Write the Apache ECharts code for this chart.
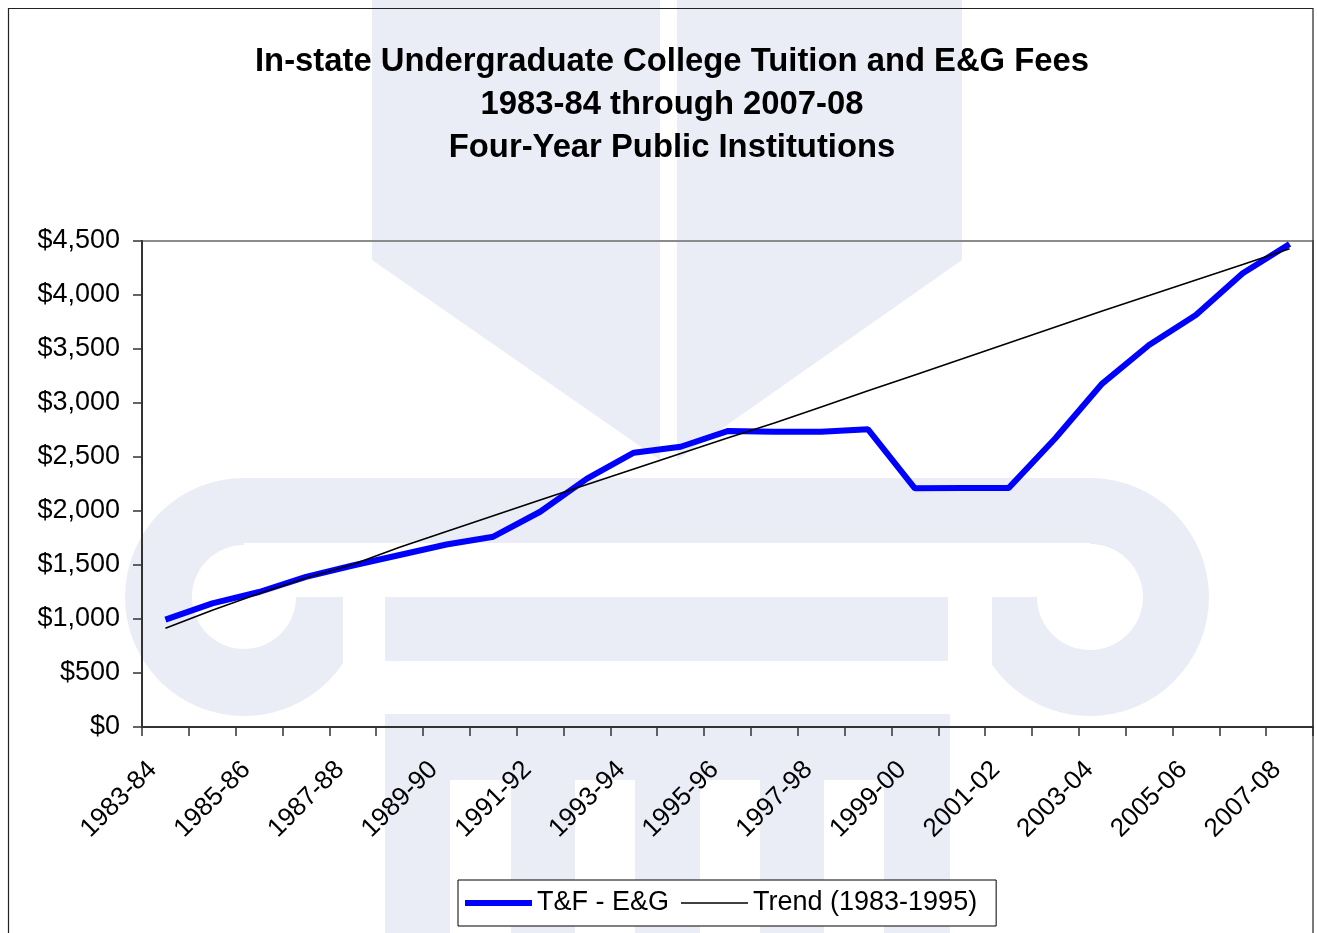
<!DOCTYPE html>
<html>
<head>
<meta charset="utf-8">
<script src="https://cdn.jsdelivr.net/npm/echarts@6/dist/echarts.min.js"></script>
<style>
html,body{margin:0;padding:0;background:#fff;}
#chart{width:1317px;height:933px;}
</style>
</head>
<body>
<div id="chart"></div>
<script>
const categories = ['1983-84','1984-85','1985-86','1986-87','1987-88','1988-89','1989-90','1990-91','1991-92','1992-93','1993-94','1994-95','1995-96','1996-97','1997-98','1998-99','1999-00','2000-01','2001-02','2002-03','2003-04','2004-05','2005-06','2006-07','2007-08'];
const tuitionFees = [995,1145,1250,1390,1495,1593,1690,1762,1993,2300,2540,2595,2740,2734,2734,2756,2210,2212,2212,2673,3180,3537,3815,4201,4472];
const trend = [914,1080,1236,1380,1505,1665,1810,1956,2102,2246,2389,2533,2676,2814,2964,3114,3260,3407,3556,3704,3852,3995,4139,4282,4428];
const yTicks = {min: 0, max: 4500, interval: 500};
const titleLines = ['In-state Undergraduate College Tuition and E&G Fees', '1983-84 through 2007-08', 'Four-Year Public Institutions'];
const seriesNames = ['T&F - E&G', 'Trend (1983-1995)'];

// decorative watermark geometry helpers
const WM = 'rgb(234,237,246)';
function arcPts(cx, cy, r, a0, a1, n) {
  const p = [];
  for (let i = 0; i <= n; i++) {
    const a = a0 + (a1 - a0) * i / n;
    p.push([cx + r * Math.cos(a), cy + r * Math.sin(a)]);
  }
  return p;
}
function tail(cx, cy, R, r, edgeX, side) {
  const dx = Math.abs(edgeX - cx);
  const aEdge = Math.acos(dx / R);
  let pts;
  if (side === 1) {
    pts = arcPts(cx, cy, R, Math.PI / 2, aEdge, 20);
    pts.push([edgeX, cy]);
    pts = pts.concat(arcPts(cx, cy, r, 0, Math.PI / 2, 20));
  } else {
    pts = arcPts(cx, cy, R, Math.PI / 2, Math.PI - aEdge, 20);
    pts.push([edgeX, cy]);
    pts = pts.concat(arcPts(cx, cy, r, Math.PI, Math.PI / 2, 20));
  }
  return pts;
}
const wmStyle = {fill: WM};
const watermark = [
  {type: 'polygon', z: -10, shape: {points: [[372,0],[660,0],[660,460],[372,260]]}, style: wmStyle, silent: true},
  {type: 'polygon', z: -10, shape: {points: [[677,0],[962,0],[962,260],[677,460]]}, style: wmStyle, silent: true},
  {type: 'rect', z: -10, shape: {x: 244, y: 478, width: 846, height: 65}, style: wmStyle, silent: true},
  {type: 'sector', z: -10, shape: {cx: 244, cy: 597, r: 119, r0: 52, startAngle: Math.PI / 2, endAngle: Math.PI * 1.5, clockwise: true}, style: wmStyle, silent: true},
  {type: 'polygon', z: -10, shape: {points: tail(244, 597, 119, 52, 343, 1)}, style: wmStyle, silent: true},
  {type: 'sector', z: -10, shape: {cx: 1090, cy: 597, r: 119, r0: 53, startAngle: -Math.PI / 2, endAngle: Math.PI / 2, clockwise: true}, style: wmStyle, silent: true},
  {type: 'polygon', z: -10, shape: {points: tail(1090, 597, 119, 53, 992, -1)}, style: wmStyle, silent: true},
  {type: 'rect', z: -10, shape: {x: 385, y: 597, width: 563, height: 64}, style: wmStyle, silent: true},
  {type: 'rect', z: -10, shape: {x: 385, y: 714, width: 565, height: 66}, style: wmStyle, silent: true},
  {type: 'rect', z: -10, shape: {x: 385, y: 779, width: 65, height: 160}, style: wmStyle, silent: true},
  {type: 'rect', z: -10, shape: {x: 511, y: 779, width: 64, height: 160}, style: wmStyle, silent: true},
  {type: 'rect', z: -10, shape: {x: 635, y: 779, width: 65, height: 160}, style: wmStyle, silent: true},
  {type: 'rect', z: -10, shape: {x: 760, y: 779, width: 64, height: 160}, style: wmStyle, silent: true},
  {type: 'rect', z: -10, shape: {x: 884, y: 779, width: 66, height: 160}, style: wmStyle, silent: true},
  {type: 'rect', z: 50, shape: {x: 8.5, y: 8.5, width: 1304.5, height: 1000}, style: {fill: null, stroke: '#222', lineWidth: 1.2}, silent: true}
];

const chart = echarts.init(document.getElementById('chart'), null, {renderer: 'canvas'});
const FONT = '"Liberation Sans", Arial, sans-serif';
chart.setOption({
  backgroundColor: '#ffffff',
  animation: false,
  graphic: {elements: watermark},
  title: {
    text: titleLines.join('\n'),
    left: 672,
    top: 40,
    padding: 0,
    textAlign: 'center',
    textStyle: {fontFamily: FONT, fontWeight: 'bold', fontSize: 32.8, lineHeight: 43, color: '#000'}
  },
  legend: {
    left: 458,
    top: 880,
    padding: [8, 19, 8, 7],
    itemGap: 12,
    itemWidth: 67,
    itemHeight: 14,
    backgroundColor: '#fff',
    borderColor: '#000',
    borderWidth: 1,
    borderRadius: 0,
    textStyle: {fontFamily: FONT, fontSize: 27, color: '#000', lineHeight: 30},
    data: [
      {name: seriesNames[0], icon: 'path://M0,0H67V6H0Z', itemStyle: {color: '#0000ff'}},
      {name: seriesNames[1], icon: 'path://M0,0H67V1.5H0Z', itemStyle: {color: '#000'}}
    ]
  },
  grid: {left: 142, right: 4, top: 241, bottom: 206, show: true, borderColor: '#8c8c8c', borderWidth: 2, backgroundColor: 'transparent'},
  xAxis: {
    type: 'category',
    data: categories,
    boundaryGap: true,
    axisLine: {show: true, lineStyle: {color: '#333', width: 2}},
    axisTick: {show: true, interval: 0, length: 9, lineStyle: {color: '#333', width: 1.5}},
    axisLabel: {interval: 1, rotate: 45, margin: 26, padding: [0, 18, 0, 0], fontFamily: FONT, fontSize: 26, color: '#000'},
    splitLine: {show: false}
  },
  yAxis: {
    type: 'value',
    min: yTicks.min,
    max: yTicks.max,
    interval: yTicks.interval,
    axisLine: {show: true, lineStyle: {color: '#333', width: 2}},
    axisTick: {show: true, length: 9, lineStyle: {color: '#333', width: 1.5}},
    axisLabel: {margin: 22, fontFamily: FONT, fontSize: 27, color: '#000',
      formatter: v => '$' + v.toLocaleString('en-US')},
    splitLine: {show: false}
  },
  series: [
    {name: seriesNames[0], type: 'line', data: tuitionFees, symbol: 'none', z: 3,
      lineStyle: {color: '#0000ff', width: 6}, itemStyle: {color: '#0000ff'}},
    {name: seriesNames[1], type: 'line', data: trend, symbol: 'none', z: 4,
      lineStyle: {color: '#000', width: 1.6}, itemStyle: {color: '#000'}}
  ]
});
</script>
</body>
</html>
